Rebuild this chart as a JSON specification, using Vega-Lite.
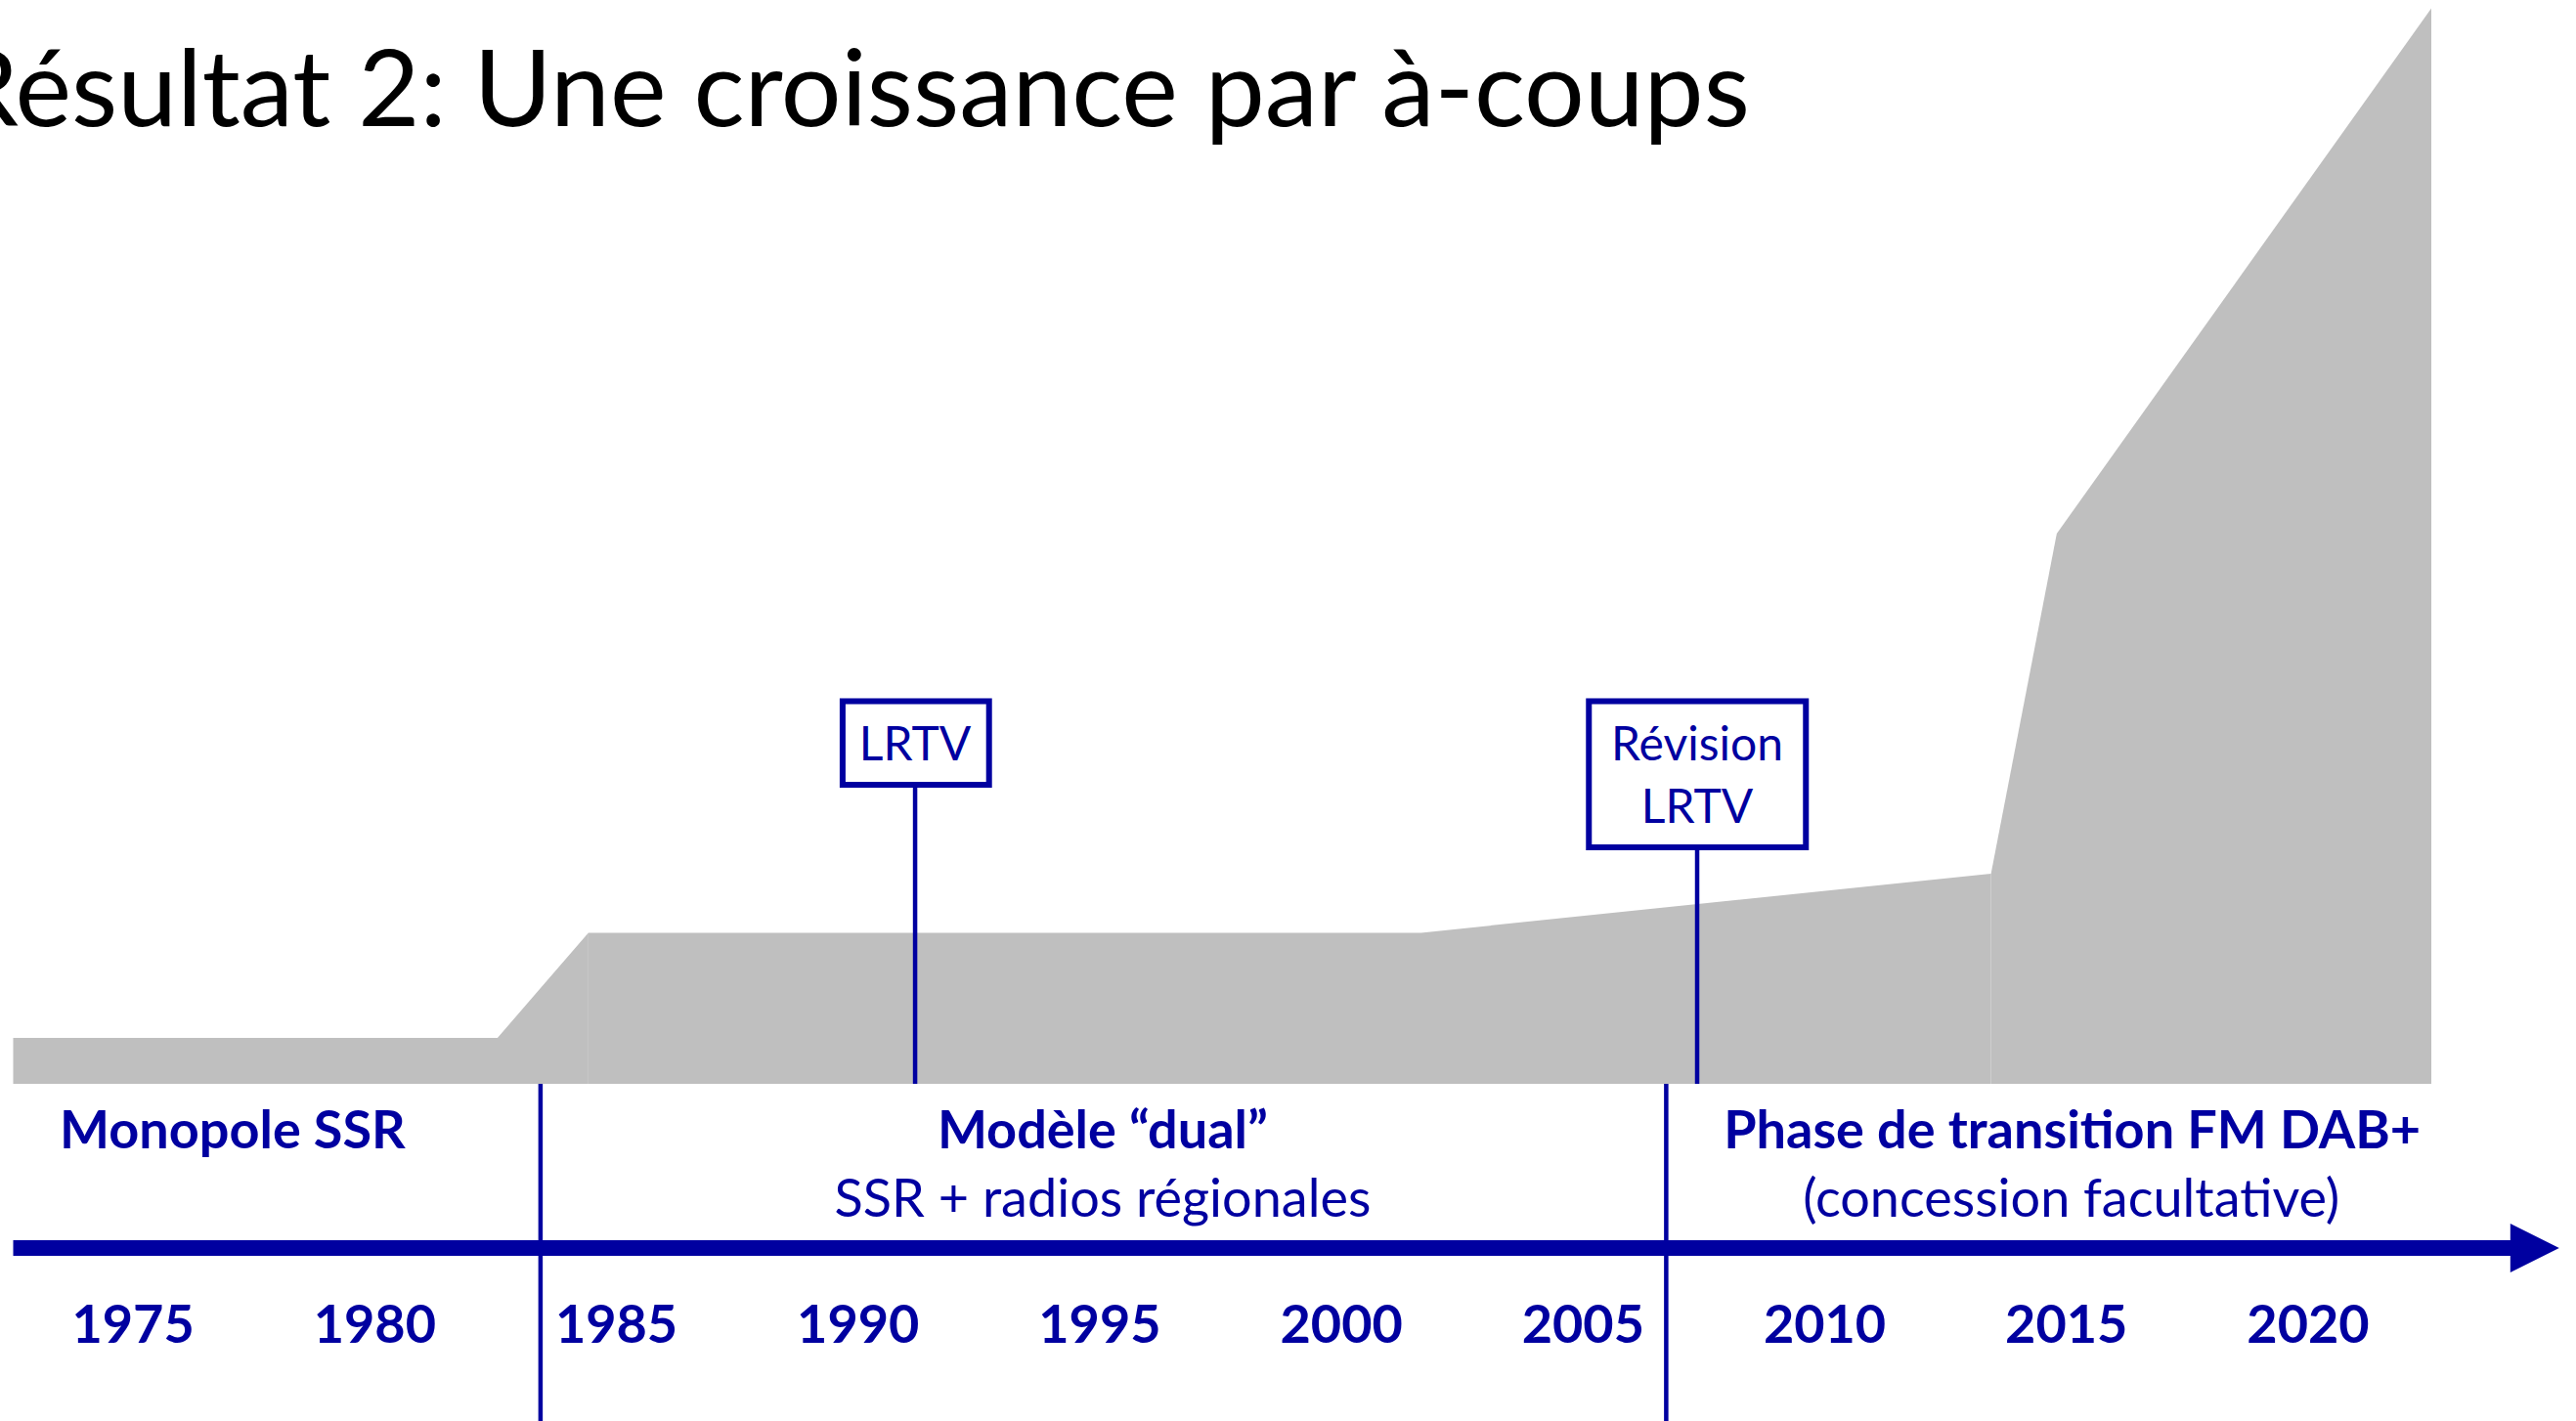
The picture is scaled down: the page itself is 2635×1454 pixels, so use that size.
{
  "$schema": "https://vega.github.io/schema/vega-lite/v6.json",
  "width": 2635,
  "height": 1454,
  "autosize": "none",
  "padding": 0,
  "background": "white",
  "config": {"view": {"stroke": null}},
  "datasets": {
    "shape": [
      {"piece": "a", "year": 1972.52, "v": 47, "v0": 0},
      {"piece": "a", "year": 1982.54, "v": 47, "v0": 0},
      {"piece": "a", "year": 1984.42, "v": 154.6, "v0": 0},
      {"piece": "b", "year": 1984.42, "v": 154.6, "v0": 0},
      {"piece": "b", "year": 2001.65, "v": 154.6, "v0": 0},
      {"piece": "b", "year": 2013.44, "v": 215, "v0": 0},
      {"piece": "c", "year": 2013.44, "v": 215, "v0": 0},
      {"piece": "c", "year": 2014.8, "v": 563, "v0": 0},
      {"piece": "c", "year": 2022.55, "v": 563, "v0": 0},
      {"piece": "d", "year": 2014.8, "v": 563, "v0": 563},
      {"piece": "d", "year": 2022.55, "v": 1100.6, "v0": 563}
    ],
    "vlines": [
      {"name": "divider1", "year": 1983.43, "v": 0, "v2": -345},
      {"name": "divider2", "year": 2006.72, "v": 0, "v2": -345},
      {"name": "LRTV", "year": 1991.18, "v": 306, "v2": 0},
      {"name": "Révision LRTV", "year": 2007.36, "v": 242, "v2": 0}
    ],
    "boxes": [
      {"name": "LRTV", "year": 1989.68, "year2": 1992.71, "v": 391.5, "v2": 306},
      {"name": "Révision LRTV", "year": 2005.12, "year2": 2009.61, "v": 391.5, "v2": 242}
    ],
    "timeline": [{"year": 1972.52, "year2": 2024.2, "v": -168}],
    "arrowhead": [{"year": 2024.69, "v": -168}],
    "title": [{"year": 2008.45, "v": 980, "text": "Résultat 2: Une croissance par à-coups"}],
    "periods": [
      {"year": 1977.06, "v": -66, "text": "Monopole SSR"},
      {"year": 1995.06, "v": -66, "text": "Modèle “dual”"},
      {"year": 2015.12, "v": -66, "text": "Phase de transition FM DAB+"}
    ],
    "subperiods": [
      {"year": 1995.06, "v": -136, "text": "SSR + radios régionales"},
      {"year": 2015.1, "v": -136, "text": "(concession facultative)"}
    ],
    "years": [
      {"year": 1975, "v": -265, "text": "1975"},
      {"year": 1980, "v": -265, "text": "1980"},
      {"year": 1985, "v": -265, "text": "1985"},
      {"year": 1990, "v": -265, "text": "1990"},
      {"year": 1995, "v": -265, "text": "1995"},
      {"year": 2000, "v": -265, "text": "2000"},
      {"year": 2005, "v": -265, "text": "2005"},
      {"year": 2010, "v": -265, "text": "2010"},
      {"year": 2015, "v": -265, "text": "2015"},
      {"year": 2020, "v": -265, "text": "2020"}
    ],
    "boxlabels": [
      {"year": 1991.18, "v": 331, "text": "LRTV"},
      {"year": 2007.36, "v": 331, "text": "Révision"},
      {"year": 2007.36, "v": 267, "text": "LRTV"}
    ]
  },
  "encoding": {
    "x": {"field": "year", "type": "quantitative", "axis": null, "scale": {"domain": [1972.247, 2025.543], "nice": false, "zero": false}},
    "y": {"field": "v", "type": "quantitative", "axis": null, "scale": {"domain": [-345, 1109], "nice": false, "zero": false}}
  },
  "layer": [
    {
      "data": {"name": "shape"},
      "mark": {"type": "area", "color": "#BFBFBF", "opacity": 1},
      "encoding": {
        "y2": {"field": "v0"},
        "detail": {"field": "piece", "type": "nominal"}
      }
    },
    {
      "data": {"name": "timeline"},
      "mark": {"type": "rule", "color": "#0000A0", "strokeWidth": 16},
      "encoding": {"x2": {"field": "year2"}}
    },
    {
      "data": {"name": "arrowhead"},
      "mark": {"type": "point", "shape": "M-1,-1L1,0L-1,1Z", "filled": true, "color": "#0000A0", "opacity": 1, "size": 2500, "strokeWidth": 0}
    },
    {
      "data": {"name": "vlines"},
      "mark": {"type": "rule", "color": "#0000A0", "strokeWidth": 4.5},
      "encoding": {"y2": {"field": "v2"}}
    },
    {
      "data": {"name": "boxes"},
      "mark": {"type": "rect", "fill": "white", "stroke": "#0000A0", "strokeWidth": 6},
      "encoding": {"x2": {"field": "year2"}, "y2": {"field": "v2"}}
    },
    {
      "data": {"name": "title"},
      "mark": {"type": "text", "font": "Lato", "fontSize": 109, "align": "right", "baseline": "alphabetic", "color": "black"},
      "encoding": {"text": {"field": "text"}}
    },
    {
      "data": {"name": "periods"},
      "mark": {"type": "text", "font": "Lato", "fontSize": 54, "fontWeight": "bold", "align": "center", "baseline": "alphabetic", "color": "#0000A0"},
      "encoding": {"text": {"field": "text"}}
    },
    {
      "data": {"name": "subperiods"},
      "mark": {"type": "text", "font": "Lato", "fontSize": 54, "align": "center", "baseline": "alphabetic", "color": "#0000A0"},
      "encoding": {"text": {"field": "text"}}
    },
    {
      "data": {"name": "years"},
      "mark": {"type": "text", "font": "Lato", "fontSize": 54, "fontWeight": "bold", "align": "center", "baseline": "alphabetic", "color": "#0000A0"},
      "encoding": {"text": {"field": "text"}}
    },
    {
      "data": {"name": "boxlabels"},
      "mark": {"type": "text", "font": "Lato", "fontSize": 48, "align": "center", "baseline": "alphabetic", "color": "#0000A0"},
      "encoding": {"text": {"field": "text"}}
    }
  ]
}
